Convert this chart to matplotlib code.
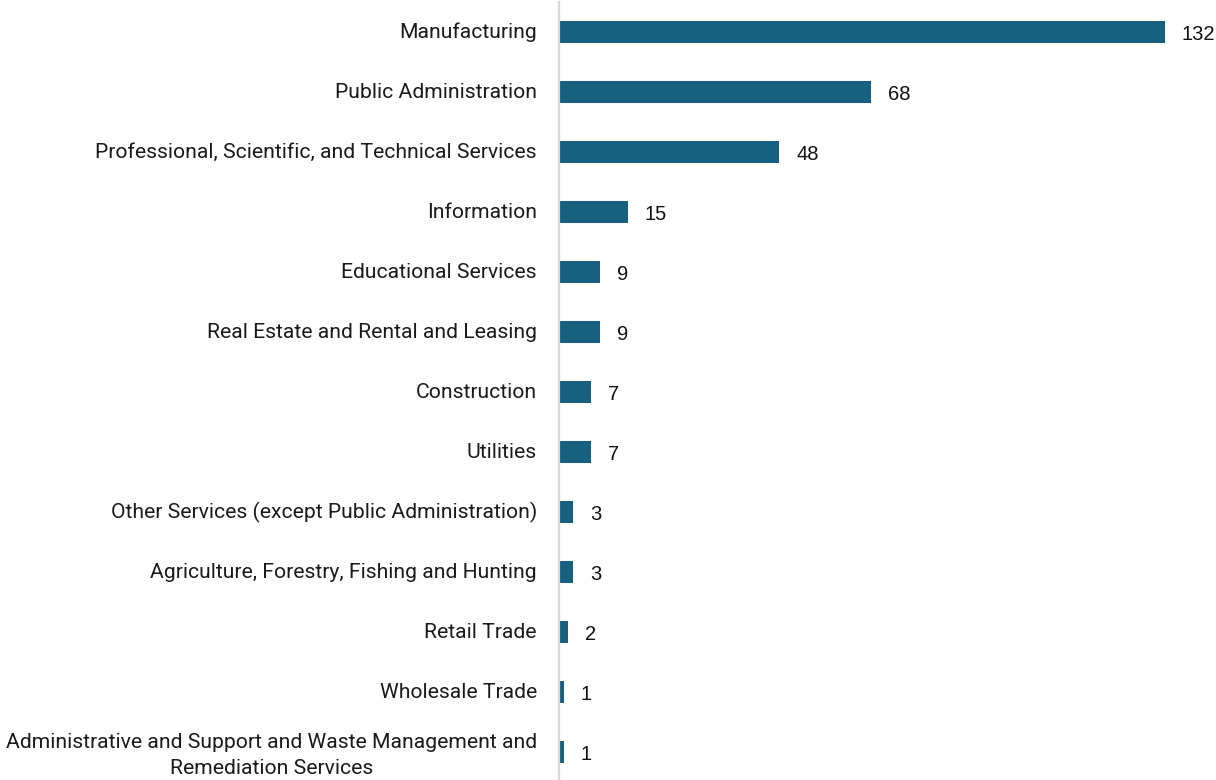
import matplotlib.pyplot as plt
from matplotlib.transforms import offset_copy, ScaledTranslation

categories = [
    "Manufacturing",
    "Public Administration",
    "Professional, Scientific, and Technical Services",
    "Information",
    "Educational Services",
    "Real Estate and Rental and Leasing",
    "Construction",
    "Utilities",
    "Other Services (except Public Administration)",
    "Agriculture, Forestry, Fishing and Hunting",
    "Retail Trade",
    "Wholesale Trade",
    "Administrative and Support and Waste Management and\nRemediation Services",
]
counts = [132, 68, 48, 15, 9, 9, 7, 7, 3, 3, 2, 1, 1]

bar_color = "#17607f"

fig = plt.figure(figsize=(12.16, 7.80), dpi=100)
ax = fig.add_axes([559 / 1216, -2 / 780, 1 - 559 / 1216, 1.0])

y = list(range(len(categories)))
ax.barh(y, counts, height=0.36, color=bar_color, zorder=2)
ax.set_xlim(0, (1216 - 559) / 4.59)
ax.set_ylim(len(categories) - 0.5, -0.5)

for spine in ["top", "right", "bottom"]:
    ax.spines[spine].set_visible(False)
ax.spines["left"].set_color("#d9d9d9")
ax.spines["left"].set_linewidth(1.6)
ax.set_xticks([])
ax.tick_params(axis="y", length=0, pad=16)
ax.set_yticks(y)
ax.set_yticklabels(categories, fontsize=15.2, family="Roboto", color="#1a1a1a",
                   multialignment="center", linespacing=1.45)
# nudge category labels up slightly
shift = ScaledTranslation(0, 2 / 100, fig.dpi_scale_trans)
for lbl in ax.get_yticklabels():
    lbl.set_transform(lbl.get_transform() + shift)

label_tf = offset_copy(ax.transData, fig=fig, x=17, y=-3, units="dots")
for yi, v in zip(y, counts):
    ax.text(v, yi, str(v), transform=label_tf, va="center", ha="left",
            fontsize=14.5, family="Liberation Sans", color="#111111")

fig.savefig("out.png", dpi=100)
